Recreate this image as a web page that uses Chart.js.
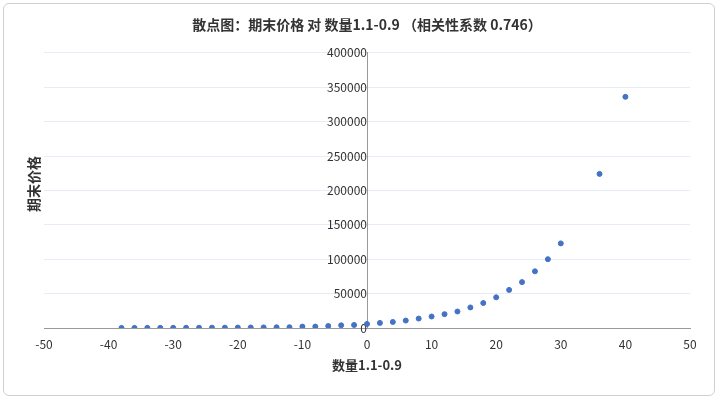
<!DOCTYPE html>
<html><head><meta charset="utf-8">
<script src="https://cdn.jsdelivr.net/npm/chart.js@4"></script>
<style>
body{margin:0;background:#fff}
#wrap{position:absolute;left:3px;top:3px;width:712px;height:393px;border:1px solid #d0d0d0;border-radius:6px;box-sizing:border-box}
</style></head><body>
<div id="wrap"><canvas id="c" width="712" height="393"></canvas></div>
<script>
// 数据
const xValues = [-38,-36,-34,-32,-30,-28,-26,-24,-22,-20,-18,-16,-14,-12,-10,-8,-6,-4,-2,0,2,4,6,8,10,12,14,16,18,20,22,24,26,28,30,36,40];
const yValues = [150,170,200,230,270,320,380,450,530,630,750,900,1000,1100,2000,2000,2900,3900,4400,5900,7400,8800,10800,13700,16700,20100,24000,29900,36300,44600,55400,66700,82400,100000,123000,224000,336000];
const chartTitle = "散点图：期末价格 对 数量1.1-0.9 （相关性系数 0.746）";
const xTitle = "数量1.1-0.9";
const yTitle = "期末价格";
const FONT = "'Noto Sans CJK SC', 'Noto Sans', sans-serif";

const yTitlePlugin = {
  id: "yTitle",
  afterDraw(chart) {
    const ctx = chart.ctx;
    ctx.save();
    ctx.font = "bold 14px " + FONT;
    ctx.fillStyle = "#333";
    ctx.translate(30, 180);
    ctx.rotate(-Math.PI / 2);
    ctx.textAlign = "center";
    ctx.textBaseline = "middle";
    ctx.fillText(yTitle, 0, 0);
    ctx.restore();
  }
};

new Chart(document.getElementById("c"), {
  type: "scatter",
  data: {
    datasets: [{
      data: xValues.map((x, i) => ({ x: x, y: yValues[i] })),
      backgroundColor: "#4472C4",
      borderColor: "#4472C4",
      pointRadius: 2.5
    }]
  },
  options: {
    responsive: false,
    animation: false,
    layout: { padding: { left: 40, right: 26, top: 2, bottom: 20 } },
    plugins: {
      legend: { display: false },
      title: { display: true, text: chartTitle, color: "#333", font: { family: FONT, size: 14, weight: "bold" }, padding: { top: 10, bottom: 20 } },
      tooltip: { enabled: false }
    },
    scales: {
      x: {
        type: "linear", min: -50, max: 50,
        ticks: { stepSize: 10, color: "#333", font: { family: FONT, size: 12 }, padding: 4 },
        grid: { display: false, drawTicks: true, tickLength: 5 },
        border: { color: "#999" },
        title: { display: true, text: xTitle, color: "#333", font: { family: FONT, size: 13, weight: "bold" }, padding: { top: 2 } }
      },
      y: {
        position: { x: 0 },
        min: 0, max: 400000,
        ticks: { stepSize: 50000, color: "#333", font: { family: FONT, size: 12 }, callback: (v) => String(v) },
        grid: { color: "#e8ecf4", drawTicks: false },
        border: { color: "#999" }
      }
    }
  },
  plugins: [yTitlePlugin]
});
</script>
</body></html>
